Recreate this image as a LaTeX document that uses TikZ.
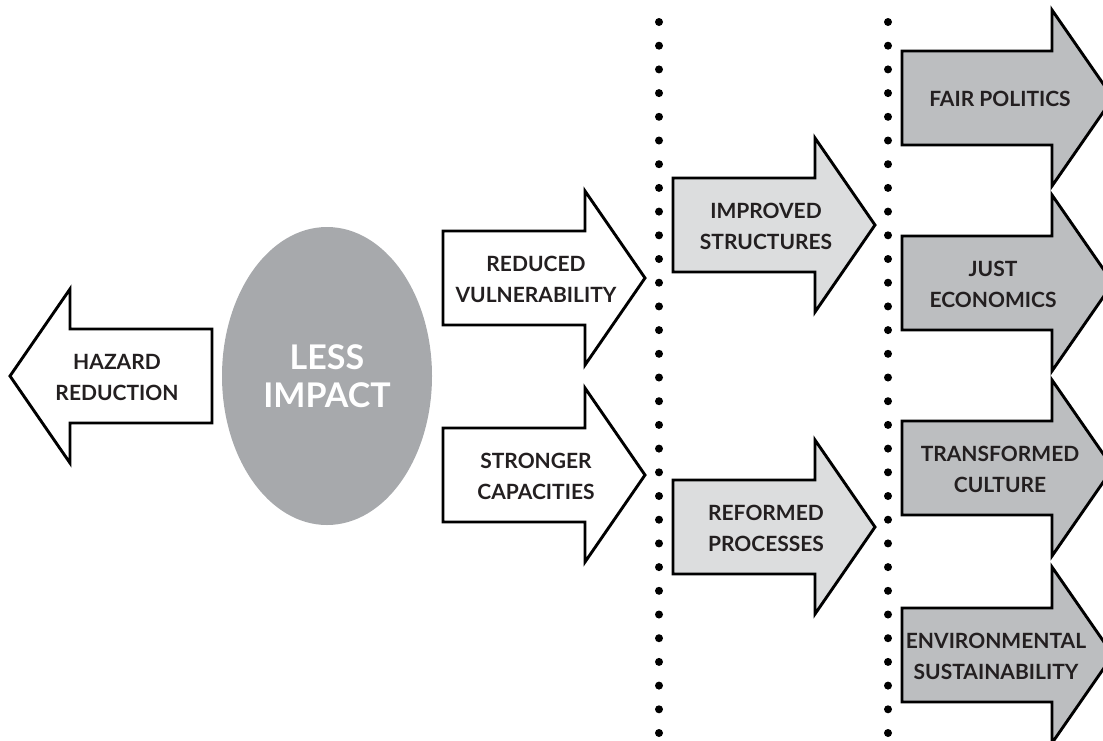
\documentclass[tikz,border=0pt]{standalone}
\usepackage{fontspec}
\setmainfont{Lato}
\usetikzlibrary{shapes.geometric}
\definecolor{inkgray}{HTML}{231F20}
\definecolor{ovalgray}{HTML}{A7A9AC}
\definecolor{palegray}{HTML}{DCDDDE}
\definecolor{midgray}{HTML}{BCBEC0}
\begin{document}
\begin{tikzpicture}[x=1pt, y=-1pt,
  blockarrow/.style={draw=black, line width=2.9pt, line join=miter},
  arrowtext/.style={font=\fontsize{21}{31}\selectfont\bfseries, text=inkgray, align=center, inner sep=0pt}]
\useasboundingbox (0,0) rectangle (1103,740);
% dotted dividers
\foreach \k in {0,...,30} {
  \fill[black] (659,{22+23.7*\k}) circle (4);
  \fill[black] (888,{22+23.7*\k}) circle (4);
}
% left arrow and centre
\draw[blockarrow, fill=white] (10,376) -- (70,289) -- (70,329) -- (212,329) -- (212,423) -- (70,423) -- (70,463) -- cycle;
\node[arrowtext] (hazard) at (117,377) {HAZARD\\REDUCTION};
\node[ellipse, fill=ovalgray, minimum width=210, minimum height=298, text=white, align=center,
  font=\fontsize{34}{38}\selectfont\bfseries] (impact) at (327,376) {LESS\\IMPACT};
% first step
\draw[blockarrow, fill=white] (443,231) -- (585,231) -- (585,191) -- (645,278) -- (585,365) -- (585,325) -- (443,325) -- cycle;
\node[arrowtext] (vuln) at (536,279) {REDUCED\\VULNERABILITY};
\draw[blockarrow, fill=white] (443,428) -- (585,428) -- (585,388) -- (645,475) -- (585,562) -- (585,522) -- (443,522) -- cycle;
\node[arrowtext] (capac) at (536,476) {STRONGER\\CAPACITIES};
% second step
\draw[blockarrow, fill=palegray] (673,178) -- (815,178) -- (815,138) -- (875,225) -- (815,312) -- (815,272) -- (673,272) -- cycle;
\node[arrowtext] (struct) at (766,226) {IMPROVED\\STRUCTURES};
\draw[blockarrow, fill=palegray] (673,480) -- (815,480) -- (815,440) -- (875,527) -- (815,614) -- (815,574) -- (673,574) -- cycle;
\node[arrowtext] (proc) at (766,528) {REFORMED\\PROCESSES};
% third step
\draw[blockarrow, fill=midgray] (902,51) -- (1052,51) -- (1052,10) -- (1113,98) -- (1052,186) -- (1052,145) -- (902,145) -- cycle;
\node[arrowtext] (politics) at (1000,99) {FAIR POLITICS};
\draw[blockarrow, fill=midgray] (902,236) -- (1052,236) -- (1052,195) -- (1113,283) -- (1052,371) -- (1052,330) -- (902,330) -- cycle;
\node[arrowtext] (econ) at (993,284) {JUST\\ECONOMICS};
\draw[blockarrow, fill=midgray] (902,421) -- (1052,421) -- (1052,380) -- (1113,468) -- (1052,556) -- (1052,515) -- (902,515) -- cycle;
\node[arrowtext] (culture) at (1000,469) {TRANSFORMED\\CULTURE};
\draw[blockarrow, fill=midgray] (902,608) -- (1052,608) -- (1052,567) -- (1113,655) -- (1052,743) -- (1052,702) -- (902,702) -- cycle;
\node[arrowtext] (sustain) at (996,656) {ENVIRONMENTAL\\SUSTAINABILITY};
\end{tikzpicture}
\end{document}
